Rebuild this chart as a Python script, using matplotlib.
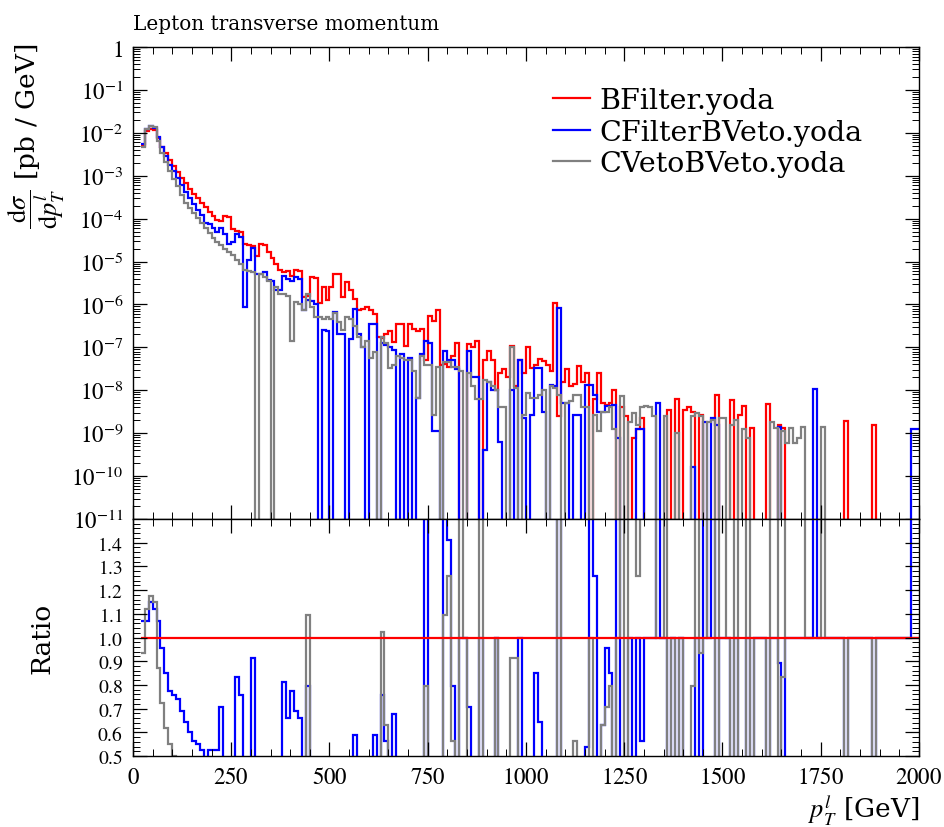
import numpy as np
import matplotlib.pyplot as plt
from matplotlib.ticker import MultipleLocator, LogLocator, FuncFormatter, NullFormatter

plt.rcParams['font.family'] = ['DejaVu Serif']
plt.rcParams['mathtext.fontset'] = 'stix'

# 10 GeV bins from 20 to 2000 GeV
EDGES = np.arange(20, 2001, 10)

# log10(dsigma/dpT [pb/GeV]) per bin, None = empty bin
BFILTER_LOG = [
    -2.30, -1.95, -1.90, -1.93, -2.12, -2.32, -2.48, -2.63,
    -2.78, -2.92, -3.06, -3.18, -3.30, -3.42, -3.53, -3.63, -3.74, -3.85,
    -3.94, -4.02, -4.06, -3.94, -3.96, -4.24, -4.28, -4.30, -4.60, -4.62,
    -4.64, -4.88, -4.60, -4.62, -4.78, -4.92, -5.05, -5.20, -5.24, -5.22,
    -5.34, -5.20, -5.22, -5.82, -5.80, -5.36, -5.38, -5.96, -5.60, -5.90,
    -5.60, -5.28, -5.30, -5.83, -5.47, -5.67, -5.87, -6.14, -6.10, -6.05,
    -6.14, -6.22, -6.77, -6.78, -6.70, -6.61, -6.88, -6.46, -6.45, -6.96,
    -6.45, -6.57, -6.61, -6.57, -7.30, -6.26, -6.38, -6.14, -7.40, -7.39,
    -7.45, -7.20, -6.90, None, None, -6.93, -7.00, -6.85, None, -7.30,
    -7.08, -7.30, -8.00, -7.60, -7.50, -7.70, -6.96, -7.90, -7.30, -7.60,
    -7.00, -7.47, -7.40, -7.28, -7.32, -7.40, -7.55, -5.97, -8.60, -7.80,
    -7.50, -7.90, -7.85, -7.43, -7.80, -7.60, None, -8.20, -7.60, -8.30,
    -8.35, -8.30, -8.00, None, -8.40, -8.60, None, -9.12, -8.90, -8.65,
    None, None, None, None, None, None, -8.45, None, -8.20, None,
    -8.45, -8.40, -8.50, None, -8.57, None, None, None, -8.10, None,
    None, None, -8.22, None, -8.57, -8.37, None, -8.88, None, None,
    None, -8.33, None, None, -8.80, -8.88, None, None, None, None,
    None, None, None, None, None, None, None, None, None, None,
    None, -8.71, None, None, None, None, None, None, -8.80, None,
    None, None, None, None, None, None, None, None, None, None,
]

CFILTER_BVETO_LOG = [
    -2.27, -1.92, -1.84, -1.88, -2.09, -2.34, -2.55, -2.74,
    -2.90, -3.05, -3.22, -3.37, -3.52, -3.67, -3.79, -3.91, -4.09, -4.13,
    -4.22, -4.30, -4.21, -4.35, -4.60, -4.55, -4.36, -4.42, -6.06, -4.96,
    -4.68, -5.28, -5.28, -5.25, -5.43, -5.45, -5.67, -5.67, -5.33, -5.40,
    -5.45, -5.36, -5.40, -6.14, -5.90, -5.92, -6.00, None, -6.60, -6.61,
    None, -6.18, -6.70, -6.70, None, -6.80, -6.10, -6.70, -7.00, None,
    -6.45, -6.45, None, -6.90, -6.95, -7.00, -7.05, None, -7.16, None,
    -7.24, None, -8.18, -7.16, -6.85, -6.90, -8.96, -8.96, None, -7.08,
    -7.30, -7.30, -7.50, None, None, -7.08, -7.70, -7.70, None, -9.40,
    -7.80, -8.00, -8.00, -9.20, None, None, -8.00, None, -7.30, -8.65,
    None, -8.57, -7.47, -7.47, -8.50, None, -7.87, -7.90, -6.08, -8.30,
    -8.30, None, -8.57, -8.57, None, -7.87, -7.87, -8.10, -8.50, -8.50,
    -8.37, -8.37, -8.34, -9.12, None, None, None, None, -8.90, -8.90,
    None, None, None, -8.30, None, None, None, None, None, None,
    None, None, -9.79, None, None, -8.73, None, -8.65, -8.80, None,
    None, None, None, None, None, None, None, None, None, None,
    None, None, None, None, -8.85, None, None, None, None, None,
    None, None, None, -7.98, None, None, None, None, None, None,
    None, None, None, None, None, None, None, None, None, None,
    None, None, None, None, None, None, None, None, -8.90, -8.90,
]

CVETO_BVETO_LOG = [
    -2.33, -1.90, -1.83, -1.87, -2.18, -2.46, -2.69, -2.89,
    -3.08, -3.25, -3.45, -3.63, -3.75, -3.88, -3.98, -4.10, -4.22, -4.34,
    -4.45, -4.55, -4.62, -4.70, -4.78, -4.85, -4.96, -5.05, -5.20, -5.22,
    -5.25, None, -5.30, -5.36, -5.45, None, -5.60, -5.75, -5.75, -5.80,
    -6.85, -5.95, -6.00, -6.14, -5.76, -6.06, -6.30, -6.30, -6.35, -6.30,
    -6.35, -6.20, -6.40, -6.60, -6.30, -6.35, -6.50, -6.75, -7.00, -6.85,
    -7.24, -7.10, None, -6.77, -6.90, -7.47, -7.40, -7.20, -7.24, -7.30,
    -7.30, -7.55, -8.18, -7.20, -7.40, -7.40, -8.57, -7.45, None, -7.35,
    -7.35, -7.45, -7.45, -7.55, None, -7.60, -7.90, -8.20, -8.20, -7.75,
    -7.80, -7.90, -8.00, -8.40, -8.40, None, -7.00, -7.94, None, -8.57,
    -8.06, -8.18, -8.18, -8.10, -8.00, None, -7.90, -7.94, -8.10, None,
    -8.30, -8.26, -8.10, -8.10, -8.40, -8.40, None, -8.57, -8.96, -8.50,
    -8.50, -8.40, -8.90, None, -8.14, None, -8.73, -8.53, -8.80, -8.40,
    -8.37, -8.40, -8.61, None, None, -8.61, None, None, -9.00, None,
    None, None, -8.60, -8.53, -8.60, None, -8.75, -8.70, None, -8.65,
    -8.65, None, -8.80, -8.70, None, -8.90, -9.12, None, None, None,
    None, None, -8.73, -8.88, None, -8.96, -9.24, -8.88, -9.24, -9.12,
    -8.85, None, None, None, None, -8.85, None, None, None, None,
    None, None, None, None, None, None, None, None, None, None,
    None, None, None, None, None, None, None, None, None, None,
]

LABELS = ["BFilter.yoda", "CFilterBVeto.yoda", "CVetoBVeto.yoda"]
COLORS = ["#ff0000", "#0000ff", "#808080"]
DECADES = list(range(0, -12, -1))
RATIO_TICKS = [0.5, 0.6, 0.7, 0.8, 0.9, 1.0, 1.1, 1.2, 1.3, 1.4]


def to_values(logs):
    return np.array([0.0 if v is None else 10.0 ** v for v in logs])


def ratio(num, den):
    r = np.ones_like(num)
    both = (num > 0) & (den > 0)
    r[both] = num[both] / den[both]
    r[(num > 0) & (den == 0)] = 10.0
    r[(num == 0) & (den > 0)] = 0.0
    return r


series = [to_values(s) for s in (BFILTER_LOG, CFILTER_BVETO_LOG, CVETO_BVETO_LOG)]
ref = series[0]

fig = plt.figure(figsize=(9.45, 8.28), dpi=100)
ax = fig.add_axes([0.1407, 0.3720, 0.8318, 0.5700])
rax = fig.add_axes([0.1407, 0.0857, 0.8318, 0.2863], sharex=ax)

for vals, lab, col in zip(series, LABELS, COLORS):
    ax.stairs(vals, EDGES, baseline=None, color=col, lw=1.6, label=lab)

ax.set_yscale("log")
ax.set_ylim(1e-11, 1)
ax.set_xlim(0, 2000)
ax.set_yticks([10.0 ** d for d in DECADES])
ax.set_yticklabels([r"$1$" if d == 0 else r"$10^{%d}$" % d for d in DECADES])
ax.yaxis.set_minor_locator(LogLocator(base=10, subs=np.arange(2, 10), numticks=200))
ax.yaxis.set_minor_formatter(NullFormatter())
plt.setp(ax.get_xticklabels(), visible=False)

ax.legend(loc="upper left", bbox_to_anchor=(0.534, 0.915), frameon=False,
          fontsize=20.5, handlelength=1.3, handletextpad=0.33, labelspacing=0.16,
          borderpad=0, borderaxespad=0)

ax.set_title("Lepton transverse momentum", loc="left", fontsize=14.4, pad=13)
fig.text(36 / 945, 1 - 44 / 828,
         r"$\dfrac{\mathrm{d}\sigma}{\mathrm{d}p_T^l}$ [pb / GeV]",
         rotation=90, ha="center", va="top", fontsize=19)

# ratio panel
for vals, col in zip(series[1:], COLORS[1:]):
    rax.stairs(ratio(vals, ref), EDGES, baseline=None, color=col, lw=1.6)
rax.stairs(ratio(ref, ref), EDGES, baseline=None, color=COLORS[0], lw=1.6)

rax.set_ylim(0.5, 1.5)
rax.set_yticks(RATIO_TICKS)
rax.set_yticklabels([r"$%.1f$" % t for t in RATIO_TICKS])
rax.yaxis.set_minor_locator(MultipleLocator(0.02))
rax.xaxis.set_major_locator(MultipleLocator(250))
rax.xaxis.set_minor_locator(MultipleLocator(50))
rax.xaxis.set_major_formatter(FuncFormatter(lambda v, p: r"$%d$" % v))
rax.set_ylabel("Ratio", fontsize=19)
rax.set_xlabel(r"$p_T^l$ [GeV]", fontsize=19, loc="right")

for a in (ax, rax):
    a.tick_params(which="both", direction="in", top=True, right=True, labelsize=16.5)
    a.tick_params(which="major", length=10, width=0.9, pad=7)
    a.tick_params(which="minor", length=5, width=0.7)
    for sp in a.spines.values():
        sp.set_linewidth(1.0)
rax.tick_params(axis="y", labelsize=14)

rax.yaxis.set_label_coords(-0.10, 0.5)

fig.savefig("out.png", dpi=100)
